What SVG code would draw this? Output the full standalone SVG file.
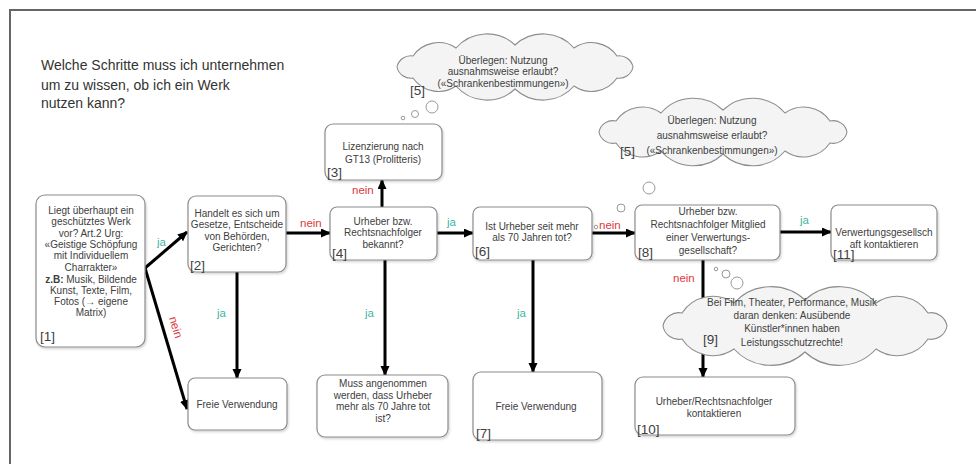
<svg xmlns="http://www.w3.org/2000/svg" width="976" height="464" viewBox="0 0 976 464">
<defs>
<style>
.box{fill:#fff;stroke:#8c8c8c;stroke-width:1.2}
.cloud{fill:#f4f4f4;stroke:#8c8c8c;stroke-width:1.1}
.bub{fill:#fff;stroke:#999;stroke-width:1}
.t{font-family:"Liberation Sans",Arial,sans-serif;font-size:10px;fill:#404040;text-anchor:middle}
.n{font-family:"Liberation Sans",Arial,sans-serif;font-size:13.5px;fill:#404040}
.title{font-family:"Liberation Sans",Arial,sans-serif;font-size:14px;fill:#333}
.ja{font-family:"Liberation Sans",Arial,sans-serif;font-size:11.5px;fill:#45b3a3}
.nein{font-family:"Liberation Sans",Arial,sans-serif;font-size:11.5px;fill:#e0393e}
.c{fill:none;stroke:#000;stroke-width:3;marker-end:url(#ah)}
</style>
<marker id="ah" markerUnits="userSpaceOnUse" markerWidth="10" markerHeight="10" refX="9" refY="4.5" orient="auto">
<path d="M0,0 L10,4.5 L0,9 z" fill="#000"/>
</marker>
<filter id="sh" x="-10%" y="-10%" width="130%" height="130%">
<feDropShadow dx="1" dy="1.5" stdDeviation="1" flood-color="#000" flood-opacity="0.18"/>
</filter>
</defs>
<rect x="0" y="0" width="976" height="464" fill="#fff"/>
<path d="M10,464 L10,10 L976,10" fill="none" stroke="#666" stroke-width="2"/>

<g id="title">
<text class="title" x="41" y="70">Welche Schritte muss ich unternehmen</text>
<text class="title" x="41" y="90">um zu wissen, ob ich ein Werk</text>
<text class="title" x="41" y="108">nutzen kann?</text>
</g>

<g id="connectors">
<path class="c" d="M145,268 L187,232"/>
<path class="c" d="M145,268 L187,409"/>
<path class="c" d="M286,233 L330,233"/>
<path class="c" d="M382,207 L382,180"/>
<path class="c" d="M237,272 L237,378"/>
<path class="c" d="M385,260 L385,375"/>
<path class="c" d="M437,233 L473,233"/>
<path class="c" d="M533,260 L533,372"/>
<path class="c" d="M592,233 L635,233"/>
<path class="c" d="M780,232 L831,232"/>
<path class="c" d="M703,260 L703,377"/>
<text class="ja" x="157" y="246">ja</text>
<text class="nein" transform="translate(169,318) rotate(73)">nein</text>
<text class="nein" x="300" y="227">nein</text>
<text class="nein" x="352" y="194">nein</text>
<text class="ja" x="447" y="226">ja</text>
<text class="nein" x="599" y="229">nein</text>
<text class="ja" x="800" y="224">ja</text>
<text class="nein" x="673" y="282">nein</text>
<text class="ja" x="217" y="317">ja</text>
<text class="ja" x="365" y="317">ja</text>
<text class="ja" x="517" y="317">ja</text>
</g>

<g id="n1">
<rect class="box" filter="url(#sh)" x="36" y="195" width="109" height="152" rx="9"/>
<text class="t" x="91" y="214">Liegt überhaupt ein</text>
<text class="t" x="91" y="225.3">geschütztes Werk</text>
<text class="t" x="91" y="236.6">vor? Art.2 Urg:</text>
<text class="t" x="91" y="247.9">«Geistige Schöpfung</text>
<text class="t" x="91" y="259.2">mit Individuellem</text>
<text class="t" x="91" y="270.5">Charrakter»</text>
<text class="t" x="91" y="282.5"><tspan font-weight="bold">z.B:</tspan> Musik, Bildende</text>
<text class="t" x="91" y="293.8">Kunst, Texte, Film,</text>
<text class="t" x="91" y="305.1">Fotos (→ eigene</text>
<text class="t" x="91" y="316.4">Matrix)</text>
<text class="n" x="40" y="341">[1]</text>
</g>

<g id="n2">
<rect class="box" filter="url(#sh)" x="188" y="196" width="98" height="76" rx="8"/>
<text class="t" x="237" y="216.5">Handelt es sich um</text>
<text class="t" x="237" y="228">Gesetze, Entscheide</text>
<text class="t" x="237" y="239.5">von Behörden,</text>
<text class="t" x="237" y="251">Gerichten?</text>
<text class="n" x="190" y="270">[2]</text>
</g>

<g id="n3">
<rect class="box" filter="url(#sh)" x="325" y="124" width="117" height="56" rx="8"/>
<text class="t" x="383" y="150">Lizenzierung nach</text>
<text class="t" x="383" y="163">GT13 (Prolitteris)</text>
<text class="n" x="327" y="177">[3]</text>
</g>

<g id="n4">
<rect class="box" filter="url(#sh)" x="330" y="207" width="107" height="53" rx="7"/>
<text class="t" x="383" y="225">Urheber bzw.</text>
<text class="t" x="383" y="236.3">Rechtsnachfolger</text>
<text class="t" x="383" y="247.6">bekannt?</text>
<text class="n" x="332" y="258">[4]</text>
</g>

<g id="n6">
<rect class="box" filter="url(#sh)" x="473" y="207" width="119" height="53" rx="7"/>
<text class="t" x="532" y="229.5">Ist Urheber  seit mehr</text>
<text class="t" x="532" y="241">als 70 Jahren tot?</text>
<text class="n" x="475" y="256">[6]</text>
</g>

<g id="n8">
<rect class="box" filter="url(#sh)" x="635" y="205" width="145" height="55" rx="7"/>
<text class="t" x="708" y="214.5">Urheber  bzw.</text>
<text class="t" x="708" y="227.5">Rechtsnachfolger Mitglied</text>
<text class="t" x="708" y="240.5">einer Verwertungs-</text>
<text class="t" x="708" y="253.5">gesellschaft?</text>
<text class="n" x="638" y="257">[8]</text>
</g>

<g id="n11">
<rect class="box" filter="url(#sh)" x="831" y="205" width="106" height="55" rx="7"/>
<text class="t" x="884" y="236">Verwertungsgesellsch</text>
<text class="t" x="884" y="248">aft kontaktieren</text>
<text class="n" x="833" y="259">[11]</text>
</g>

<g id="n_freie1">
<rect class="box" filter="url(#sh)" x="188" y="378" width="99" height="52" rx="7"/>
<text class="t" x="237" y="408">Freie Verwendung</text>
</g>

<g id="n_muss">
<rect class="box" filter="url(#sh)" x="317" y="375" width="131" height="62" rx="8"/>
<text class="t" x="383" y="387">Muss angenommen</text>
<text class="t" x="383" y="398.5">werden, dass Urheber</text>
<text class="t" x="383" y="410">mehr als 70 Jahre tot</text>
<text class="t" x="383" y="421.5">ist?</text>
</g>

<g id="n7">
<rect class="box" filter="url(#sh)" x="473" y="372" width="129" height="68" rx="8"/>
<text class="t" x="536" y="410">Freie Verwendung</text>
<text class="n" x="476" y="438">[7]</text>
</g>

<g id="n10">
<rect class="box" filter="url(#sh)" x="635" y="377" width="160" height="58" rx="8"/>
<text class="t" x="714" y="405">Urheber/Rechtsnachfolger</text>
<text class="t" x="714" y="417">kontaktieren</text>
<text class="n" x="637" y="434">[10]</text>
</g>

<g id="cloud5a">
<path class="cloud" d="M633,67 A14,14 0 0 1 617,78 A31,31 0 0 1 574,86 A41,41 0 0 1 515,89 A41,41 0 0 1 456,86 A31,31 0 0 1 413,78 A14,14 0 0 1 397,67 A14,14 0 0 1 413,56 A31,31 0 0 1 456,48 A41,41 0 0 1 515,45 A41,41 0 0 1 574,48 A31,31 0 0 1 617,56 A14,14 0 0 1 633,67 Z"/>
<circle class="bub" cx="432" cy="107" r="6"/>
<circle class="bub" cx="415" cy="114" r="3.5"/>
<circle class="bub" cx="403" cy="118" r="1.8"/>
<text class="t" x="503" y="63.5">Überlegen: Nutzung</text>
<text class="t" x="503" y="75">ausnahmsweise erlaubt?</text>
<text class="t" x="503" y="86.5">(«Schrankenbestimmungen»)</text>
<text class="n" x="410" y="95">[5]</text>
</g>

<g id="cloud5b">
<path class="cloud" d="M847,132 A14,14 0 0 1 830,143 A32,32 0 0 1 785,151 A43,43 0 0 1 723,154 A43,43 0 0 1 661,151 A32,32 0 0 1 616,143 A14,14 0 0 1 599,132 A14,14 0 0 1 616,121 A32,32 0 0 1 661,113 A43,43 0 0 1 723,110 A43,43 0 0 1 785,113 A32,32 0 0 1 830,121 A14,14 0 0 1 847,132 Z"/>
<circle class="bub" cx="649" cy="188" r="6"/>
<circle class="bub" cx="621" cy="208" r="4"/>
<circle class="bub" cx="596" cy="227" r="1.8"/>
<text class="t" x="712" y="123.5">Überlegen:  Nutzung</text>
<text class="t" x="712" y="138.5">ausnahmsweise erlaubt?</text>
<text class="t" x="712" y="153.5">(«Schrankenbestimmungen»)</text>
<text class="n" x="620" y="156">[5]</text>
</g>

<g id="cloud9">
<path class="cloud" d="M947,326 A16,16 0 0 1 928,339 A37,37 0 0 1 876,349 A50,50 0 0 1 805,352 A50,50 0 0 1 734,349 A37,37 0 0 1 682,339 A16,16 0 0 1 663,326 A16,16 0 0 1 682,313 A37,37 0 0 1 734,303 A50,50 0 0 1 805,300 A50,50 0 0 1 876,303 A37,37 0 0 1 928,313 A16,16 0 0 1 947,326 Z"/>
<circle class="bub" cx="737" cy="283" r="6"/>
<circle class="bub" cx="726" cy="274" r="4"/>
<circle class="bub" cx="716" cy="269" r="1.8"/>
<text class="t" x="792" y="305.5">Bei Film, Theater, Performance, Musik</text>
<text class="t" x="792" y="318.5">daran denken: Ausübende</text>
<text class="t" x="792" y="331.5">Künstler*innen haben</text>
<text class="t" x="792" y="345.5">Leistungsschutzrechte!</text>
<text class="n" x="703" y="344">[9]</text>
</g>
</svg>
